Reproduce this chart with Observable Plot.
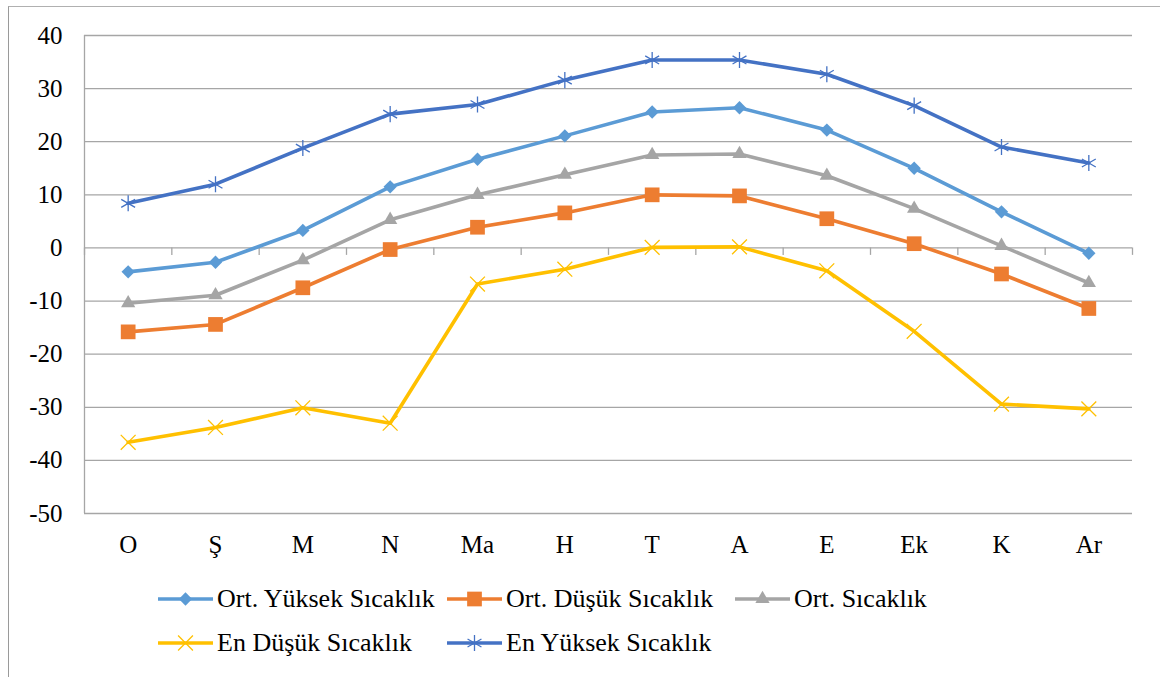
<!DOCTYPE html>
<html>
<head>
<meta charset="utf-8">
<script src="https://cdn.jsdelivr.net/npm/d3@7"></script>
<script src="https://cdn.jsdelivr.net/npm/@observablehq/plot@0.6"></script>
<style>
  html, body { margin: 0; padding: 0; background: #fff; }
  #wrap { position: relative; width: 1160px; height: 677px; overflow: hidden; font-family: "Liberation Serif", "Times New Roman", serif; }
  #frame { position: absolute; left: 8px; top: 6px; width: 1200px; height: 720px; border-left: 1.5px solid #9a9a9a; border-top: 1px solid #b0b0b0; pointer-events: none; }
  #chart { position: absolute; left: 0; top: 0; }
  #legend { position: absolute; left: 0; top: 570px; width: 1160px; height: 107px; }
  .item { position: absolute; display: flex; align-items: center; height: 40px; font-size: 26px; color: #000; white-space: nowrap; }
  .item svg { display: block; margin-right: 4px; }
</style>
</head>
<body>
<div id="wrap">
  <div id="frame"></div>
  <div id="chart"></div>
  <div id="legend"></div>
</div>
<script>
const months = ["O", "Ş", "M", "N", "Ma", "H", "T", "A", "E", "Ek", "K", "Ar"];
const yTicks = [-50, -40, -30, -20, -10, 0, 10, 20, 30, 40];

const ortYuksek = [-4.5, -2.7, 3.3, 11.5, 16.7, 21.1, 25.6, 26.4, 22.2, 15.0, 6.8, -1.0];
const ortDusuk  = [-15.8, -14.4, -7.5, -0.3, 3.9, 6.6, 10.0, 9.8, 5.5, 0.8, -4.9, -11.4];
const ortalama  = [-10.4, -8.9, -2.3, 5.3, 10.0, 13.8, 17.5, 17.7, 13.6, 7.4, 0.4, -6.6];
const enDusuk   = [-36.6, -33.8, -30.1, -33.0, -6.8, -4.0, 0.1, 0.2, -4.3, -15.7, -29.4, -30.3];
const enYuksek  = [8.4, 12.0, 18.8, 25.2, 27.0, 31.6, 35.4, 35.4, 32.7, 26.8, 19.0, 16.0];

const seriesNames = ["Ort. Yüksek Sıcaklık", "Ort. Düşük Sıcaklık", "Ort. Sıcaklık", "En Düşük Sıcaklık", "En Yüksek Sıcaklık"];
const seriesValues = [ortYuksek, ortDusuk, ortalama, enDusuk, enYuksek];
const seriesColors = ["#5B9BD5", "#ED7D31", "#A5A5A5", "#FFC000", "#4472C4"];
const seriesSymbols = ["diamond2", "square", "triangle", "times", "asterisk"];
const seriesR = [6, 8.3, 5.3, 6.8, 7.6];
const seriesFilled = [true, true, true, false, false];

const series = seriesNames.map((name, k) => ({
  name, color: seriesColors[k], symbol: seriesSymbols[k], r: seriesR[k], filled: seriesFilled[k],
  data: seriesValues[k].map((v, i) => ({i, v}))
}));

const boundaries = d3.range(13).map(d => d - 0.5);
const gridColor = "#a6a6a6";

const marks = [
  Plot.gridY(yTicks, {stroke: gridColor, strokeOpacity: 1, strokeWidth: 1.3}),
  Plot.ruleX([-0.5], {y1: -50, y2: 40, stroke: gridColor, strokeWidth: 1.3}),
  Plot.ruleX(boundaries, {y1: 0, y2: -1.4, stroke: gridColor, strokeWidth: 1.3})
];
for (const s of series) {
  marks.push(Plot.line(s.data, {x: "i", y: "v", stroke: s.color, strokeWidth: 3.6}));
}
for (const s of series) {
  marks.push(Plot.dot(s.data, s.filled
    ? {x: "i", y: "v", symbol: s.symbol, r: s.r, fill: s.color, stroke: "none"}
    : {x: "i", y: "v", symbol: s.symbol, r: s.r, fill: "none", stroke: s.color, strokeWidth: 1.3}));
}

const chart = Plot.plot({
  width: 1160,
  height: 570,
  marginLeft: 84,
  marginRight: 28,
  marginTop: 35,
  marginBottom: 57,
  style: {fontFamily: "'Liberation Serif', 'Times New Roman', serif", fontSize: "25px", color: "#000", background: "transparent", overflow: "visible"},
  x: {type: "linear", domain: [-0.5, 11.5], ticks: d3.range(12), tickFormat: i => months[i], tickSize: 0, tickPadding: 22, label: null},
  y: {domain: [-50, 40], ticks: yTicks, tickFormat: d => String(d), tickSize: 0, tickPadding: 22, label: null},
  marks
});
document.getElementById("chart").appendChild(chart);

// Legend
const symbolMap = {diamond2: d3.symbolDiamond2, square: d3.symbolSquare, triangle: d3.symbolTriangle, times: d3.symbolTimes, asterisk: d3.symbolAsterisk};
const legendPos = [[158, 29], [447, 29], [735, 29], [158, 73], [447, 73]];
const legend = document.getElementById("legend");
series.forEach((s, k) => {
  const div = document.createElement("div");
  div.className = "item";
  div.style.left = legendPos[k][0] + "px";
  div.style.top = (legendPos[k][1] - 20) + "px";
  const w = 55, h = 24;
  const path = d3.symbol(symbolMap[s.symbol], Math.PI * s.r * s.r)();
  const sym = s.filled
    ? `<path d="${path}" transform="translate(${w/2},${h/2})" fill="${s.color}"/>`
    : `<path d="${path}" transform="translate(${w/2},${h/2})" fill="none" stroke="${s.color}" stroke-width="1.3"/>`;
  div.innerHTML = `<svg width="${w}" height="${h}"><line x1="0" x2="${w}" y1="${h/2}" y2="${h/2}" stroke="${s.color}" stroke-width="3.6"/>${sym}</svg><span>${s.name}</span>`;
  legend.appendChild(div);
});
</script>
</body>
</html>
